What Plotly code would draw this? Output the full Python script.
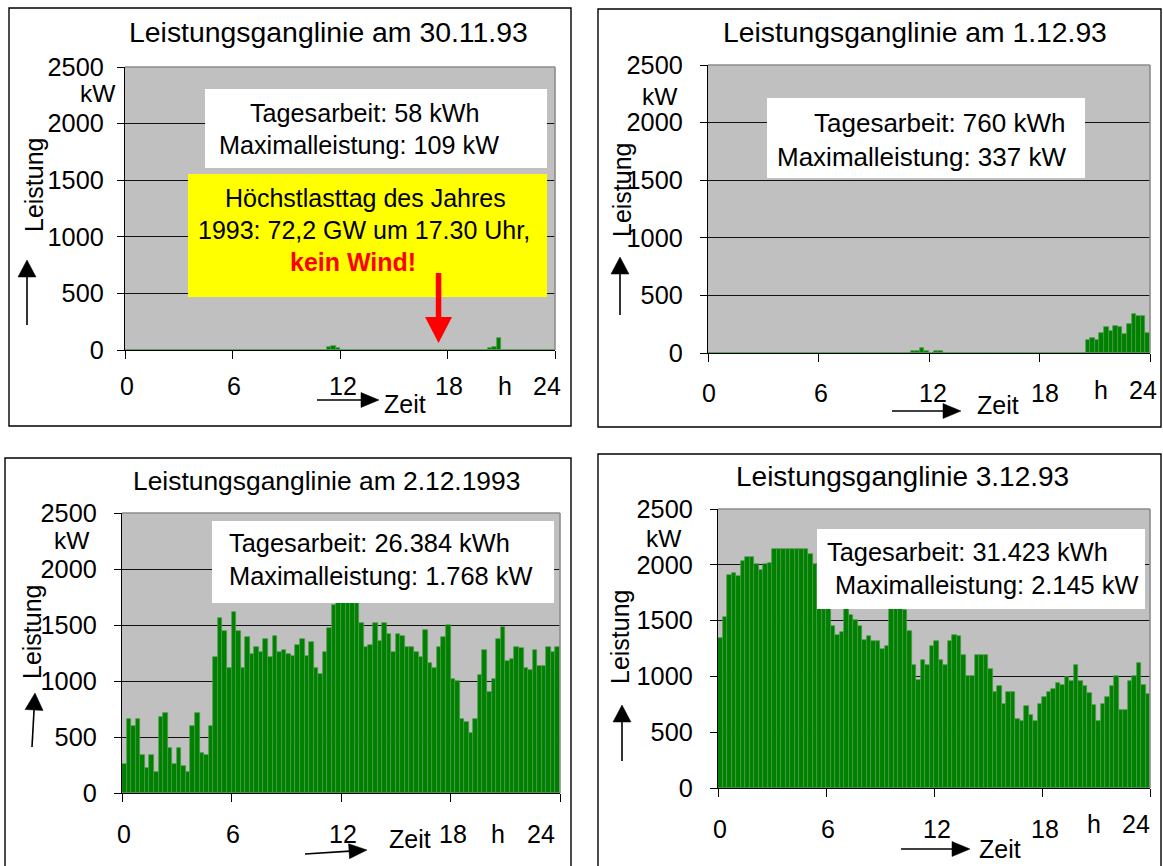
import plotly.graph_objects as go

W, H = 1163, 866
FONT = "Liberation Sans, Arial, sans-serif"

# Viertelstundenwerte der Leistung in kW (96 Intervalle à 15 min je Tag)
slot_hours = [i * 0.25 + 0.125 for i in range(96)]

power_30_11_93 = [
    0, 0, 0, 0, 0, 0, 0, 0, 0, 0, 0, 0,
    0, 0, 0, 0, 0, 0, 0, 0, 0, 0, 0, 0,
    0, 0, 0, 0, 0, 0, 0, 0, 0, 0, 0, 0,
    0, 0, 0, 0, 0, 0, 0, 0, 0, 30, 32, 15,
    0, 0, 0, 0, 0, 0, 0, 0, 0, 0, 0, 0,
    0, 0, 0, 0, 0, 0, 0, 0, 0, 0, 0, 0,
    0, 0, 0, 0, 0, 0, 0, 0, 0, 15, 30, 109,
    0, 0, 0, 0, 0, 0, 0, 0, 0, 0, 0, 0,
]

power_01_12_93 = [
    0, 0, 0, 0, 0, 0, 0, 0, 0, 0, 0, 0,
    0, 0, 0, 0, 0, 0, 0, 0, 0, 0, 0, 0,
    0, 0, 0, 0, 0, 0, 0, 0, 0, 0, 0, 0,
    0, 0, 0, 0, 0, 0, 0, 0, 15, 15, 45, 15,
    0, 15, 15, 0, 0, 0, 0, 0, 0, 0, 0, 0,
    0, 0, 0, 0, 0, 0, 0, 0, 0, 0, 0, 0,
    0, 0, 0, 0, 0, 0, 0, 0, 0, 0, 111, 126,
    111, 175, 222, 190, 237, 222, 161, 251, 337, 321, 321, 175,
]

power_02_12_93 = [
    260, 662, 600, 662, 342, 225, 342, 192, 680, 710, 401, 260,
    401, 243, 192, 600, 710, 353, 342, 600, 1210, 1566, 1449, 1114,
    1614, 1449, 1114, 1389, 1242, 1308, 1260, 1374, 1212, 1404, 1260, 1275,
    1245, 1227, 1320, 1374, 1227, 1344, 1114, 1066, 1260, 1470, 1680, 1720,
    1768, 1740, 1710, 1700, 1515, 1308, 1323, 1515, 1359, 1515, 1422, 1260,
    1422, 1404, 1308, 1308, 1260, 1212, 1452, 1165, 1114, 1308, 1389, 1503,
    1018, 1003, 662, 632, 533, 662, 1051, 1275, 904, 1018, 1374, 1485,
    1180, 1195, 1308, 1293, 1114, 1099, 1275, 1132, 1132, 1308, 1260, 1308,
]

power_03_12_93 = [
    1343, 1534, 1910, 1925, 1904, 2036, 2068, 2068, 2006, 1955, 2006, 2015,
    2145, 2145, 2145, 2145, 2145, 2145, 2145, 2145, 2100, 2010, 1850, 1750,
    1650, 1454, 1373, 1394, 1640, 1553, 1508, 1454, 1328, 1358, 1313, 1313,
    1248, 1275, 1620, 1640, 1620, 1598, 1409, 1104, 970, 1149, 1104, 1275,
    1313, 1149, 1104, 1313, 1373, 1358, 1194, 1006, 1006, 1194, 1194, 1194,
    1069, 860, 910, 752, 860, 860, 621, 603, 731, 651, 603, 752,
    812, 860, 890, 940, 919, 991, 955, 1098, 955, 910, 851, 746,
    603, 752, 812, 910, 1000, 701, 701, 955, 1000, 1116, 925, 845,
]

titles = [
    "Leistungsganglinie am 30.11.93",
    "Leistungsganglinie am 1.12.93",
    "Leistungsganglinie am 2.12.1993",
    "Leistungsganglinie 3.12.93",
]
day_energy = ["Tagesarbeit: 58 kWh", "Tagesarbeit: 760 kWh",
              "Tagesarbeit: 26.384 kWh", "Tagesarbeit: 31.423 kWh"]
day_peak = ["Maximalleistung: 109 kW", "Maximalleistung: 337 kW",
            "Maximalleistung: 1.768 kW", "Maximalleistung: 2.145 kW"]
hour_ticks = [0, 6, 12, 18, 24]
hour_labels = ["0", "6", "12", "18", "24"]
power_ticks = [0, 500, 1000, 1500, 2000, 2500]
peak_note = ["Höchstlasttag des Jahres", "1993: 72,2 GW um 17.30 Uhr,", "kein Wind!"]
peak_hour = 17.5

series = [power_30_11_93, power_01_12_93, power_02_12_93, power_03_12_93]

# Pixel geometry of the four panels
panels = [
    dict(frame=(9, 8, 571, 426), plot=(125, 67, 555, 350), title=(328, 32),
         title_size=28.4, box_size=25.2,
         standoff=8, kw=(98, 93), leistung=(34, 185), up=((27, 325), (27, 260)),
         xlab_y=386, xlab_x=[127, 234, 343, 449, 547], h=(505, 386),
         zeit=(405, 404), right=((317, 400), (379, 400)),
         box=(205, 89, 547, 168),
         lines=[(365, 113, "center"), (359, 145, "center")]),
    dict(frame=(598, 9, 1161, 427), plot=(708, 65, 1150, 353), title=(915, 32),
         title_size=28.3, box_size=26,
         standoff=12, kw=(660, 96), leistung=(622, 190), up=((620, 315), (620, 257)),
         xlab_y=393, xlab_x=[709, 821, 933, 1045, 1143], h=(1101, 390),
         zeit=(998, 405), right=((892, 411), (961, 411)),
         box=(767, 98, 1085, 178),
         lines=[(1067, 123, "right"), (1068, 157, "right")]),
    dict(frame=(5, 458, 571, 890), plot=(122, 513, 560, 793), title=(326, 481),
         title_size=26.4, box_size=25.4,
         standoff=12, kw=(72, 540), leistung=(32, 632), up=((32, 747), (35, 693)),
         xlab_y=834, xlab_x=[124, 233, 343, 453, 541], h=(498, 834),
         zeit=(410, 839), right=((305, 854), (367, 850)),
         box=(212, 521, 554, 603),
         lines=[(227, 543, "left"), (227, 576, "left")]),
    dict(frame=(598, 454, 1161, 890), plot=(718, 509, 1150, 788), title=(902, 477),
         title_size=28, box_size=25.4,
         standoff=12, kw=(664, 538), leistung=(620, 637), up=((622, 761), (622, 705)),
         xlab_y=829, xlab_x=[720, 828, 937, 1045, 1136], h=(1094, 824),
         zeit=(1000, 849), right=((901, 849), (970, 849)),
         box=(817, 529, 1145, 609),
         lines=[(825, 552, "left"), (833, 585, "left")]),
]


def fx(x):
    return x / W


def fy(y):
    return 1 - y / H


def label(text, x, y, size=25, xanchor="center", color="black", angle=0, height=None):
    ann = dict(text=text, x=fx(x), y=fy(y), xref="paper", yref="paper",
               showarrow=False, xanchor=xanchor, yanchor="middle", textangle=angle,
               font=dict(family=FONT, size=size, color=color))
    if height is not None:
        ann["height"] = height
    return ann


def arrow(p0, p1, head_len, head_w, lw, color="black"):
    (x0, y0), (x1, y1) = p0, p1
    dx, dy = x1 - x0, y1 - y0
    n = (dx * dx + dy * dy) ** 0.5
    ux, uy = dx / n, dy / n
    bx, by = x1 - ux * head_len, y1 - uy * head_len
    px_, py_ = -uy * head_w / 2, ux * head_w / 2
    shaft = dict(type="line", xref="paper", yref="paper",
                 x0=fx(x0), y0=fy(y0), x1=fx(bx + ux), y1=fy(by + uy),
                 line=dict(color=color, width=lw))
    path = "M {:.5f},{:.5f} L {:.5f},{:.5f} L {:.5f},{:.5f} Z".format(
        fx(x1), fy(y1), fx(bx + px_), fy(by + py_), fx(bx - px_), fy(by - py_))
    head = dict(type="path", xref="paper", yref="paper", path=path,
                fillcolor=color, line=dict(color=color, width=0.5))
    return [shaft, head]


fig = go.Figure()
shapes, annotations = [], []
layout_axes = {}

for i, (p, values) in enumerate(zip(panels, series), start=1):
    xa, ya = ("x" if i == 1 else f"x{i}"), ("y" if i == 1 else f"y{i}")
    fig.add_trace(go.Bar(
        x=slot_hours, y=values, width=0.25, xaxis=xa, yaxis=ya,
        marker=dict(color="#008000", line=dict(color="#4a9e4a", width=0.7)),
        hoverinfo="skip", showlegend=False))

    x0, y0, x1, y1 = p["plot"]
    layout_axes["xaxis" + ("" if i == 1 else str(i))] = dict(
        domain=[fx(x0), fx(x1)], anchor=ya, range=[0, 24],
        tickvals=hour_ticks, ticks="outside", ticklen=8, tickwidth=1.2,
        tickcolor="black", showticklabels=False, showline=True,
        linecolor="black", linewidth=1.3, showgrid=False, zeroline=False,
        automargin=False, fixedrange=True)
    layout_axes["yaxis" + ("" if i == 1 else str(i))] = dict(
        domain=[fy(y1), fy(y0)], anchor=xa, range=[0, 2500],
        tickvals=power_ticks, ticks="outside", ticklen=7, tickwidth=1.2,
        tickcolor="black", showline=True, linecolor="black", linewidth=1.3,
        showgrid=True, gridcolor="#111111", gridwidth=1, zeroline=False,
        tickfont=dict(family=FONT, size=25.3, color="black"),
        ticklabelstandoff=p["standoff"], automargin=False, fixedrange=True)

    # outer frame of the panel
    fx0, fy0, fx1, fy1 = p["frame"]
    shapes.append(dict(type="rect", xref="paper", yref="paper",
                       x0=fx(fx0), y0=fy(fy1), x1=fx(fx1), y1=fy(fy0),
                       line=dict(color="black", width=1.4), layer="above"))
    # grey plot-area border (top and right)
    for sx0, sy0, sx1, sy1 in [(0, 1, 1, 1), (1, 0, 1, 1)]:
        shapes.append(dict(type="line", xref=f"{xa} domain", yref=f"{ya} domain",
                           x0=sx0, y0=sy0, x1=sx1, y1=sy1,
                           line=dict(color="#8c8c8c", width=1.6), layer="above"))

    # info box
    bx0, by0, bx1, by1 = p["box"]
    shapes.append(dict(type="rect", xref="paper", yref="paper",
                       x0=fx(bx0), y0=fy(by1), x1=fx(bx1), y1=fy(by0),
                       fillcolor="white", line=dict(width=0), layer="above"))
    for (lx, ly, anchor), txt in zip(p["lines"], [day_energy[i - 1], day_peak[i - 1]]):
        annotations.append(label(txt, lx, ly, size=p["box_size"], xanchor=anchor))

    # titles and axis texts
    annotations.append(label(titles[i - 1], *p["title"], size=p["title_size"]))
    annotations.append(label("kW", *p["kw"], size=24.5, height=22))
    annotations.append(label("Leistung", *p["leistung"], angle=-90))
    for lx, txt in zip(p["xlab_x"], hour_labels):
        ly = p["h"][1] if txt == "24" else p["xlab_y"]
        annotations.append(label(txt, lx, ly))
    annotations.append(label("h", *p["h"]))
    annotations.append(label("Zeit", *p["zeit"]))
    shapes += arrow(*p["up"], head_len=17, head_w=18, lw=1.6)
    shapes += arrow(*p["right"], head_len=18, head_w=15, lw=1.6)

# note on the peak-load day (first panel)
p = panels[0]
x0, y0, x1, y1 = p["plot"]
shapes.append(dict(type="rect", xref="paper", yref="paper",
                   x0=fx(188), y0=fy(297), x1=fx(547), y1=fy(174),
                   fillcolor="#ffff00", line=dict(width=0), layer="above"))
annotations.append(label(peak_note[0], 365, 198))
annotations.append(label(peak_note[1], 364, 230))
annotations.append(label("<b>" + peak_note[2] + "</b>", 353, 262, color="#ff0000"))

peak_x = x0 + peak_hour / 24 * (x1 - x0)
shaft_w = 5.5
shapes.append(dict(type="rect", xref="paper", yref="paper",
                   x0=fx(peak_x - shaft_w / 2), x1=fx(peak_x + shaft_w / 2),
                   y0=fy(318), y1=fy(273), fillcolor="#ff0000",
                   line=dict(width=0), layer="above"))
shapes.append(dict(type="path", xref="paper", yref="paper",
                   path="M {:.5f},{:.5f} L {:.5f},{:.5f} L {:.5f},{:.5f} Z".format(
                       fx(peak_x - 13.5), fy(317), fx(peak_x + 13.5), fy(317),
                       fx(peak_x), fy(343)),
                   fillcolor="#ff0000", line=dict(width=0), layer="above"))

fig.update_layout(
    width=W, height=H, margin=dict(l=0, r=0, t=0, b=0, pad=0, autoexpand=False),
    paper_bgcolor="white", plot_bgcolor="#c0c0c0",
    bargap=0, showlegend=False,
    shapes=shapes, annotations=annotations,
    **layout_axes,
)

fig.write_html("out.html")
